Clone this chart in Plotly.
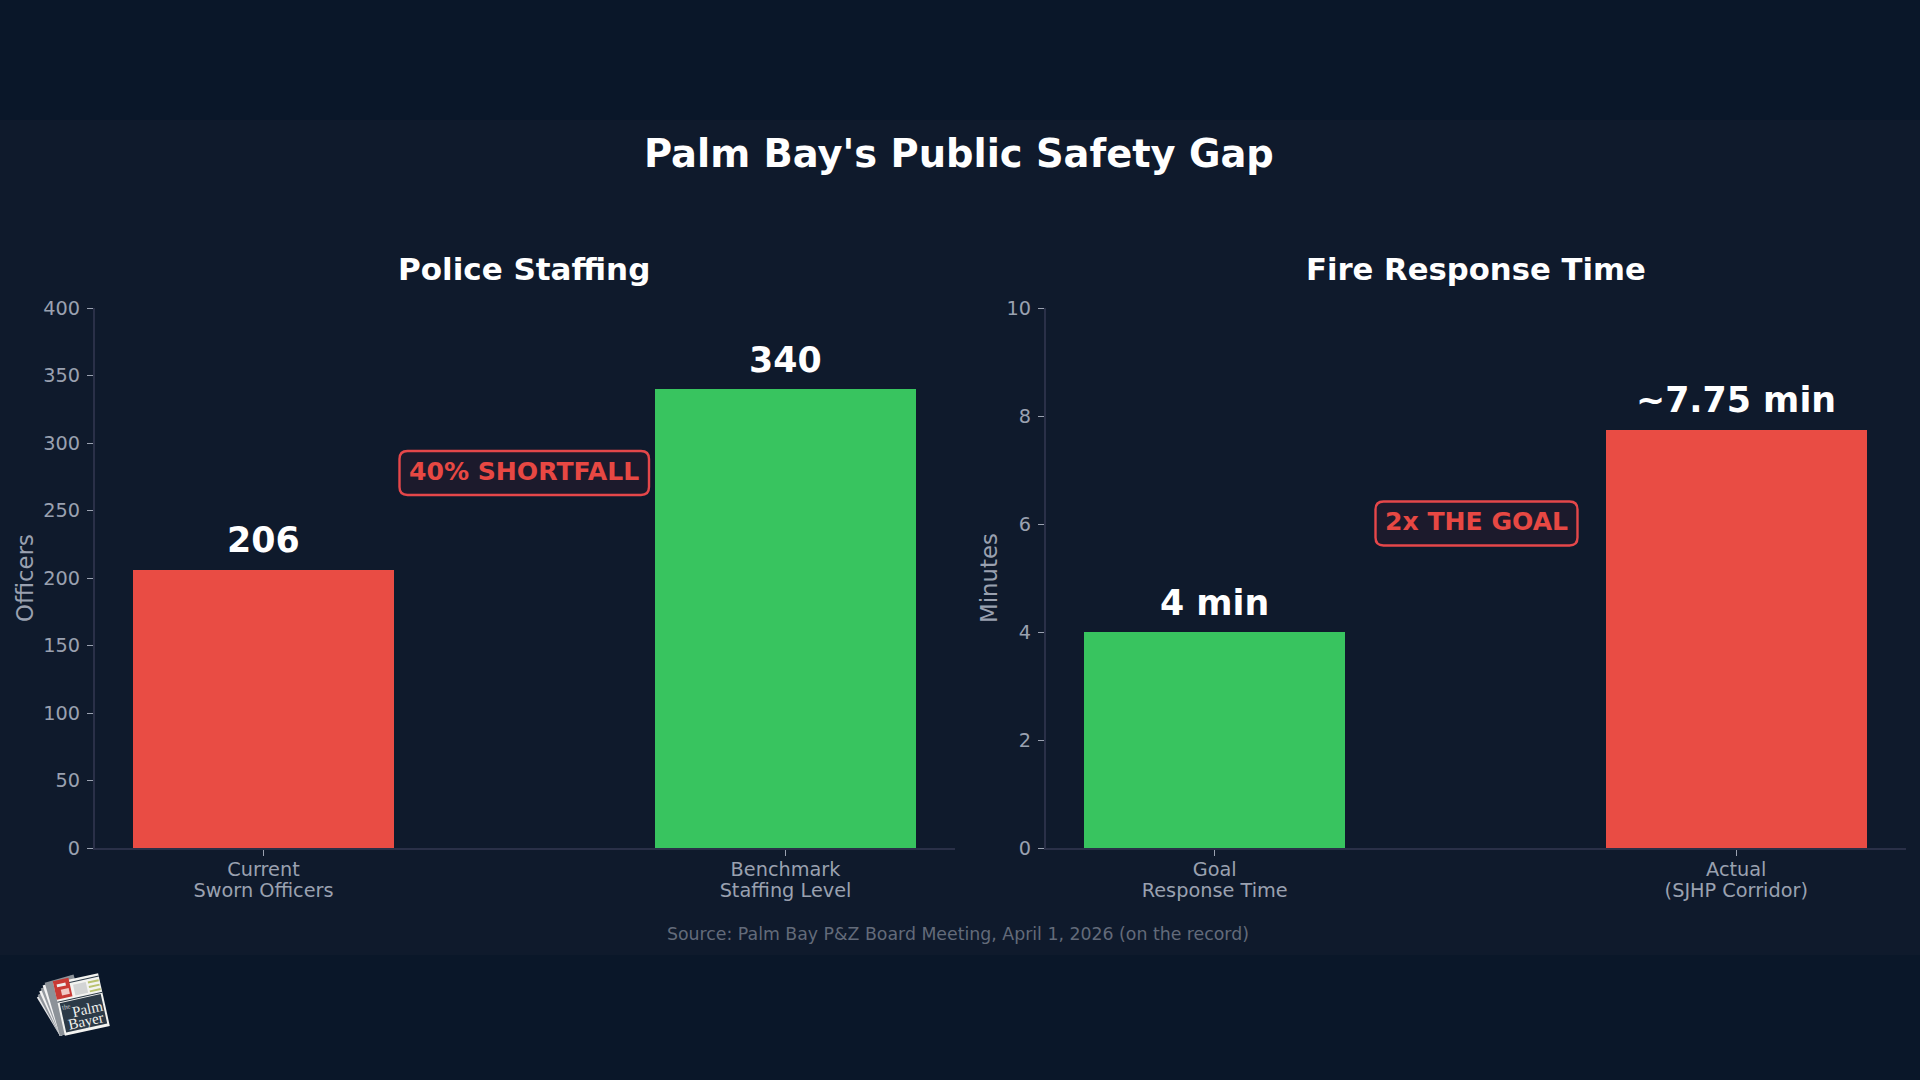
import math
import plotly.graph_objects as go

W, H = 1920, 1080

# ---- data -------------------------------------------------------------
police_ticks = ["Current<br>Sworn Officers", "Benchmark<br>Staffing Level"]
police_values = [206, 340]
police_labels = ["206", "340"]
fire_ticks = ["Goal<br>Response Time", "Actual<br>(SJHP Corridor)"]
fire_values = [4, 7.75]
fire_labels = ["4 min", "~7.75 min"]
positions = [0, 1]
police_yticks = [0, 50, 100, 150, 200, 250, 300, 350, 400]
fire_yticks = [0, 2, 4, 6, 8, 10]

RED, GREEN = "#e94c44", "#38c45f"
TXT = "#9aa1b0"
FONT = "DejaVu Sans"


def px(x, y):
    return x / W, 1 - y / H


def path(points):
    out = []
    for i, (x, y) in enumerate(points):
        a, b = px(x, y)
        out.append(("M" if i == 0 else "L") + f"{a:.5f},{b:.5f}")
    return " ".join(out) + " Z"


def rounded(x0, y0, x1, y1, r):
    p = lambda x, y: "%.5f,%.5f" % px(x, y)
    return (f"M{p(x0+r,y0)} L{p(x1-r,y0)} Q{p(x1,y0)} {p(x1,y0+r)} L{p(x1,y1-r)} "
            f"Q{p(x1,y1)} {p(x1-r,y1)} L{p(x0+r,y1)} Q{p(x0,y1)} {p(x0,y1-r)} "
            f"L{p(x0,y0+r)} Q{p(x0,y0)} {p(x0+r,y0)} Z")


fig = go.Figure()
fig.add_trace(go.Bar(x=positions, y=police_values, width=0.5, marker=dict(color=[RED, GREEN], line_width=0),
                     xaxis="x", yaxis="y", showlegend=False))
fig.add_trace(go.Bar(x=positions, y=fire_values, width=0.5, marker=dict(color=[GREEN, RED], line_width=0),
                     xaxis="x2", yaxis="y2", showlegend=False))

shapes = [
    dict(type="rect", xref="paper", yref="paper", x0=0, x1=1, y0=1 - 955 / H, y1=1 - 120 / H,
         fillcolor="#0f1a2c", line_width=0, layer="below"),
]
BADGE_FILL = "#1c1a2c"
for box in [(399.5, 451, 649, 495), (1375.5, 501.5, 1577.5, 545.5)]:
    shapes.append(dict(type="path", xref="paper", yref="paper", path=rounded(*box, 8),
                       fillcolor=BADGE_FILL, line=dict(color="#e5474a", width=2.4)))

# ---- logo: small fanned newspaper, drawn in rotated page coordinates ----
CX, CY, ANG = 81.5, 1004.5, math.radians(-12.5)
PX, PY = 60, 1036


def rot(dx, dy, a=ANG, cx=CX, cy=CY):
    return (cx + dx * math.cos(a) - dy * math.sin(a), cy + dx * math.sin(a) + dy * math.cos(a))


def rect(x0, y0, x1, y1, color, a=ANG, cx=CX, cy=CY):
    pts = [rot(x0, y0, a, cx, cy), rot(x1, y0, a, cx, cy), rot(x1, y1, a, cx, cy), rot(x0, y1, a, cx, cy)]
    return dict(type="path", xref="paper", yref="paper", path=path(pts), fillcolor=color, line=dict(width=0))


for deg, shade in [(-31, "#e6e7e9"), (-28.5, "#8f949b"), (-25, "#f2f2f2"), (-22, "#969ba1"),
                   (-19, "#f4f4f4"), (-16, "#8c9298")]:
    shapes.append(rect(0, -45 - (deg + 31) * 0.7, 30, 0, shade, a=math.radians(deg), cx=PX, cy=PY))
shapes += [
    rect(-23, -27, 23, 27, "#f3f3f0"),
    rect(-8, -24.5, 23, -23.5, "#2c3a47"),
    rect(-23, -29, -7, -10, "#c93a35"),
    rect(-20, -25, -11, -22, "#eeeeee"),
    rect(-17, -19, -9, -13, "#f0c9c5"),
    rect(-4, -21, 9, -10, "#d3d4d4"),
    rect(11, -21, 22, -19, "#b9c26e"),
    rect(11, -16.5, 22, -14.5, "#b9c26e"),
    rect(11, -12, 22, -10, "#b9c26e"),
    rect(-23, -8, 23, -7, "#2c3a47"),
    rect(-21, -6, 21, 24, "#2c3a47"),
]

annotations = []


def note(text, x, y, size, color, bold=False, family=FONT, angle=0):
    a, b = px(x, y)
    annotations.append(dict(text=f"<b>{text}</b>" if bold else text, x=a, y=b, xref="paper", yref="paper",
                            showarrow=False, xanchor="center", yanchor="middle", textangle=angle,
                            font=dict(family=family, size=size, color=color)))


note("Palm Bay's Public Safety Gap", 959, 153.5, 38.4, "#ffffff", True)
note("Police Staffing", 524, 269, 31, "#ffffff", True)
note("Fire Response Time", 1476, 269, 30.7, "#ffffff", True)
note("40% SHORTFALL", 524, 471.5, 25.1, "#e74843", True)
note("2x THE GOAL", 1476, 521.5, 25.1, "#e74843", True)
note("Source: Palm Bay P&amp;Z Board Meeting, April 1, 2026 (on the record)", 958, 934, 17.33, "#636b7a")
note("the", 66, 1007, 7, "#c9ccce", family="Liberation Serif", angle=-12.5)
note("Palm", 87, 1009, 15, "#f2f2ee", family="Liberation Serif", angle=-12.5)
note("Bayer", 86, 1021, 15, "#f2f2ee", family="Liberation Serif", angle=-12.5)

for xa, ya, vals, labels in [("x", "y", police_values, police_labels), ("x2", "y2", fire_values, fire_labels)]:
    for p, v, t in zip(positions, vals, labels):
        annotations.append(dict(text=f"<b>{t}</b>", x=p, y=v, xref=xa, yref=ya, showarrow=False,
                                xanchor="center", yanchor="middle", yshift=29.5,
                                font=dict(family=FONT, size=34.8, color="#ffffff")))

AXLINE = "#2a3048"
TICKSIZE = 19.3


def xaxis(domain, rng, ticks, anchor):
    return dict(domain=domain, range=rng, tickmode="array", tickvals=positions, ticktext=ticks,
                showgrid=False, zeroline=False, showline=True, linecolor=AXLINE, linewidth=2, ticks="outside",
                ticklen=6, tickwidth=1, tickcolor=TXT, tickfont=dict(family=FONT, size=TICKSIZE, color=TXT),
                ticklabelstandoff=-3, anchor=anchor, fixedrange=True)


def yaxis(title, rng, ticks, anchor):
    return dict(domain=[1 - 848 / H, 1 - 308 / H], range=rng, tickmode="array", tickvals=ticks,
                showgrid=False, zeroline=False, showline=True, linecolor=AXLINE, linewidth=2, ticks="outside",
                ticklen=6, tickwidth=1, tickcolor=TXT, tickfont=dict(family=FONT, size=TICKSIZE, color=TXT),
                ticklabelstandoff=3,
                title=dict(text=title, font=dict(family=FONT, size=22.8, color=TXT), standoff=3),
                anchor=anchor, fixedrange=True)


fig.update_layout(
    width=W, height=H, margin=dict(l=0, r=0, t=0, b=0, autoexpand=False), autosize=False,
    paper_bgcolor="#0a1729", plot_bgcolor="rgba(0,0,0,0)", bargap=0,
    shapes=shapes, annotations=annotations, showlegend=False,
    xaxis=xaxis([95 / W, 955 / W], [-0.3228, 1.3247], police_ticks, "y"),
    yaxis=yaxis("Officers", [0, 400], police_yticks, "x"),
    xaxis2=xaxis([1046 / W, 1906 / W], [-0.3234, 1.3254], fire_ticks, "y2"),
    yaxis2=yaxis("Minutes", [0, 10], fire_yticks, "x2"),
)

POST = """
document.body.style.margin='0';document.body.style.overflow='hidden';document.body.style.background='#0a1729';
var tightenTicks=function(){document.querySelectorAll('.xtick text tspan.line, .x2tick text tspan.line').forEach(function(t){
  if(parseFloat(t.getAttribute('dy'))>0){t.setAttribute('dy','1.08em');}});};
tightenTicks();setTimeout(tightenTicks,50);
"""
fig.write_html("out.html", config=dict(displayModeBar=False), post_script=POST)
